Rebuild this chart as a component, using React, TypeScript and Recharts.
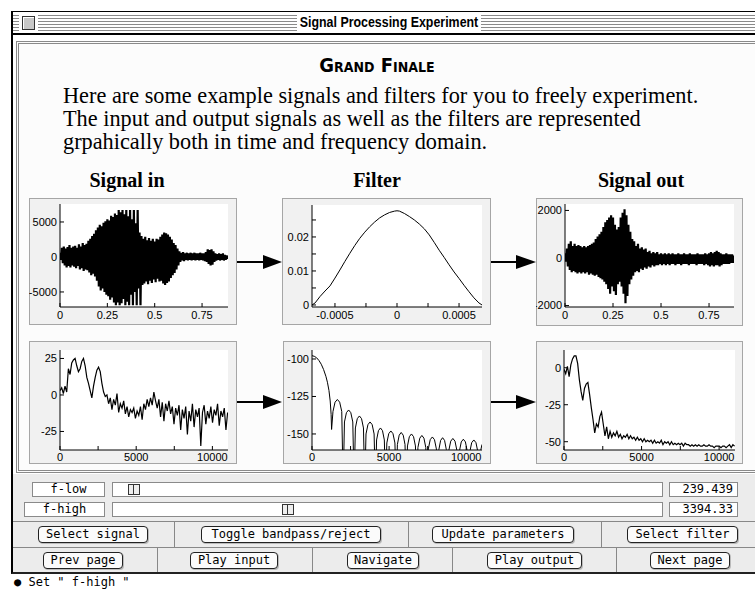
import React from 'react';
import { LineChart, Line, XAxis, YAxis, CartesianGrid } from 'recharts';

// ---------- DATA ----------
const WAVE_STEP = 0.01; // s between envelope samples
const signalInUpper = [600, 1300, 1500, 1200, 1400, 1700, 1300, 1500, 1600, 1300, 1800, 1500, 2000, 1700, 1900, 2300, 2600, 3000, 3300, 3800, 4200, 4600, 4400, 4900, 5100, 5400, 5200, 5900, 5700, 6200, 6000, 6700, 6400, 6700, 6100, 6700, 5800, 6700, 5400, 6700, 4800, 6700, 3500, 3000, 2600, 2900, 2400, 2700, 2300, 2600, 2200, 2600, 2500, 2900, 3200, 3500, 3400, 3200, 2900, 2500, 2000, 1700, 1200, 800, 600, 700, 500, 600, 500, 600, 500, 600, 500, 500, 600, 500, 500, 700, 1100, 1000, 1100, 800, 500, 400, 500, 400, 500, 300, 200];
const signalInLower = [-400, -900, -1200, -1500, -1300, -1500, -1200, -1400, -1600, -1300, -1800, -1600, -2000, -1800, -1900, -2200, -2600, -2400, -2800, -3400, -4200, -4800, -4500, -5000, -5400, -5600, -6100, -5800, -6500, -6900, -6500, -6900, -6600, -6000, -6900, -6400, -6900, -5400, -6900, -5000, -6900, -4500, -6900, -4000, -3800, -3500, -3900, -3400, -3700, -3200, -3600, -3100, -3500, -3400, -3800, -4000, -3700, -3500, -3000, -2600, -2300, -1800, -1200, -700, -500, -600, -400, -500, -400, -500, -400, -500, -400, -500, -400, -500, -600, -700, -1000, -1200, -1100, -700, -500, -400, -500, -400, -500, -400, -300];
const signalOutUpper = [200, 400, 600, 700, 500, 600, 500, 550, 500, 450, 500, 450, 500, 550, 600, 650, 800, 900, 1000, 1100, 1300, 1500, 1600, 1700, 1800, 1700, 1400, 1200, 1300, 1700, 1900, 2050, 1800, 1400, 1100, 800, 700, 500, 600, 400, 450, 350, 400, 250, 300, 200, 250, 200, 250, 150, 200, 150, 200, 150, 200, 150, 200, 150, 150, 200, 150, 150, 200, 150, 150, 200, 150, 150, 150, 200, 150, 150, 150, 200, 150, 200, 250, 200, 250, 300, 250, 200, 150, 150, 200, 150, 150, 150, 100];
const signalOutLower = [-150, -350, -500, -600, -550, -600, -650, -600, -650, -600, -650, -600, -700, -650, -700, -750, -700, -800, -850, -900, -1000, -1100, -1300, -1500, -1200, -1400, -1550, -1100, -1000, -1200, -1500, -1900, -1600, -1100, -900, -750, -600, -550, -600, -450, -500, -400, -450, -350, -400, -300, -350, -300, -300, -250, -300, -250, -300, -250, -300, -250, -250, -300, -250, -250, -300, -250, -250, -250, -300, -250, -250, -250, -300, -250, -250, -250, -300, -250, -300, -350, -300, -350, -300, -300, -350, -300, -250, -250, -250, -250, -200, -200, -150];

const SPEC_STEP = 110; // Hz between spectrum samples
const spectrumInDb = [3, 5, 1, 6, 2, 18, 14, 22, 24, 25, 20, 16, 18, 23, 25, 20, 12, 8, 3, -2, 6, 12, 17, 19, 16, 8, 2, -1, 0, -6, -2, -10, -3, -7, 1, -12, -6, -9, -4, -13, -8, -15, -10, -12, -9, -16, -11, -14, -8, -17, -6, -10, -3, -8, -2, -7, 2, -4, -9, -3, -15, -5, -18, -6, -11, -4, -13, -8, -20, -9, -14, -7, -24, -10, -16, -8, -27, -11, -18, -6, -22, -10, -15, -9, -35, -12, -7, -20, -11, -16, -8, -19, -10, -14, -6, -21, -11, -15, -9, -24, -12];
const spectrumOutDb = [-1, -4, 1, -6, 2, 6, 8, 8, 3, -8, -16, -22, -14, -11, -10, -18, -27, -35, -44, -38, -40, -33, -30, -38, -46, -40, -48, -43, -47, -44, -46, -43, -47, -45, -48, -46, -47, -45, -48, -46, -48, -47, -49, -47, -49, -48, -50, -48, -50, -49, -50, -49, -51, -49, -51, -50, -51, -49, -52, -50, -51, -50, -52, -50, -52, -51, -52, -51, -52, -51, -53, -51, -52, -52, -53, -52, -53, -52, -53, -52, -53, -53, -52, -53, -53, -52, -53, -53, -54, -53, -53, -53, -54, -53, -53, -54, -53, -52, -54, -52, -53];

const filterTimeSec = [-0.000685, -0.00066, -0.00062, -0.00058, -0.00054, -0.0005, -0.00046, -0.00042, -0.00038, -0.00034, -0.0003, -0.00026, -0.00022, -0.00018, -0.00014, -0.0001, -0.00006, -0.00002, 0, 0.00002, 0.00006, 0.0001, 0.00014, 0.00018, 0.00022, 0.00026, 0.0003, 0.00034, 0.00038, 0.00042, 0.00046, 0.0005, 0.00054, 0.00058, 0.00062, 0.00066, 0.000685];
const filterImpulse = [0, 0.0006, 0.0025, 0.0041, 0.0056, 0.0079, 0.0103, 0.0128, 0.0152, 0.0175, 0.0196, 0.0214, 0.023, 0.0244, 0.0256, 0.0265, 0.0272, 0.0276, 0.0277, 0.0276, 0.0269, 0.026, 0.025, 0.0238, 0.0224, 0.0206, 0.0184, 0.0161, 0.014, 0.0118, 0.0097, 0.0078, 0.0058, 0.0039, 0.0021, 0.0006, 0];

const filterFreqHz = [0, 150, 300, 450, 600, 750, 900, 1000, 1100, 1180, 1240, 1270,
  1360, 1495, 1645, 1795, 1930, 2020,
  2105, 2233, 2375, 2517, 2645, 2730,
  2813, 2937, 3075, 3213, 3337, 3420,
  3503, 3627, 3765, 3903, 4027, 4110,
  4189, 4308, 4440, 4572, 4691, 4770,
  4853, 4977, 5115, 5253, 5377, 5460,
  5538, 5655, 5785, 5915, 6032, 6110,
  6192, 6314, 6450, 6586, 6708, 6790,
  6870, 6991, 7125, 7259, 7380, 7460,
  7543, 7667, 7805, 7943, 8067, 8150,
  8227, 8342, 8470, 8598, 8713, 8790,
  8873, 8997, 9135, 9273, 9397, 9480,
  9560, 9681, 9815, 9949, 10070, 10150,
  10233, 10357, 10495, 10633, 10757, 10840,
  10920, 11025];
const filterDb = [-97.8, -98.2, -99.2, -101, -103.5, -107, -111.5, -115.5, -121, -128, -137, -147,
  -135, -128.8, -127, -128.8, -135, -185,
  -142, -135.8, -134, -135.8, -142, -185,
  -146, -139.8, -138, -139.8, -146, -185,
  -150, -143.8, -142, -143.8, -150, -185,
  -154, -147.8, -146, -147.8, -154, -185,
  -156, -149.8, -148, -149.8, -156, -185,
  -157, -150.8, -149, -150.8, -157, -185,
  -158, -151.8, -150, -151.8, -158, -185,
  -159, -152.8, -151, -152.8, -159, -185,
  -160, -153.8, -152, -153.8, -160, -185,
  -160.5, -154.3, -152.5, -154.3, -160.5, -185,
  -161, -154.8, -153, -154.8, -161, -185,
  -161.5, -155.3, -153.5, -155.3, -161.5, -185,
  -162, -155.8, -154, -155.8, -162, -185,
  -162, -157];

const columnTitles = ['Signal in', 'Filter', 'Signal out'];
const sliderLabels = ['f-low', 'f-high'];
const sliderValues = [239.439, 3394.33];
const sliderValueText = ['239.439', '3394.33'];
const sliderMaxHz = 11025;
const buttonsRow1 = ['Select signal', 'Toggle bandpass/reject', 'Update parameters', 'Select filter'];
const buttonsRow2 = ['Prev page', 'Play input', 'Navigate', 'Play output', 'Next page'];
const introLines = [
  'Here are some example signals and filters for you to freely experiment.',
  'The input and output signals as well as the filters are represented',
  'grpahically both in time and frequency domain.',
];

// ---------- TABLES ----------
const waveTable = (up: number[], lo: number[]) =>
  up.flatMap((u, i) => [
    { x: i * WAVE_STEP, y: u },
    { x: i * WAVE_STEP + WAVE_STEP / 2, y: lo[i] },
  ]);
const specTable = (db: number[]) => db.map((v, i) => ({ x: i * SPEC_STEP, y: v }));
const pairTable = (xs: number[], ys: number[]) => xs.map((v, i) => ({ x: v, y: ys[i] }));

const signalInData = waveTable(signalInUpper, signalInLower);
const signalOutData = waveTable(signalOutUpper, signalOutLower);
const filterTimeData = pairTable(filterTimeSec, filterImpulse);
const specInData = specTable(spectrumInDb);
const specOutData = specTable(spectrumOutDb);
const filterFreqData = pairTable(filterFreqHz, filterDb);

// ---------- LAYOUT ----------
const TICK_FONT = '"Liberation Sans", Arial, sans-serif';
const UI_FONT = '"DejaVu Sans Mono", monospace';

type Box = { x: number; y: number; w: number; h: number };
type PlotArea = { l: number; t: number; r: number; b: number };

type PlotProps = {
  frame: Box;
  plot: PlotArea;
  data: { x: number; y: number }[];
  xDomain: [number, number];
  yDomain: [number, number];
  xTicks: number[];
  xLabels: number[];
  yTicks: number[];
  yLabels: number[];
  yRightTicks?: number[];
  xTickMargin: number;
  lineWidth?: number;
};

const labelFmt = (labels: number[]) => (v: number) =>
  labels.some((l) => Math.abs(l - v) < 1e-12) ? String(v) : '';

function Plot({ frame, plot, data, xDomain, yDomain, xTicks, xLabels, yTicks, yLabels, yRightTicks, xTickMargin, lineWidth = 1 }: PlotProps) {
  const margin = { top: plot.t - frame.y, right: frame.x + frame.w - plot.r, left: 0, bottom: 0 };
  const tickStyle = { fill: '#000', fontSize: 11, fontFamily: TICK_FONT };
  return (
    <>
      <div
        style={{
          position: 'absolute', left: frame.x, top: frame.y, width: frame.w, height: frame.h,
          background: '#f1f1f1', border: '1px solid #a6a6a6', boxSizing: 'border-box',
        }}
      />
      <div style={{ position: 'absolute', left: frame.x, top: frame.y }}>
        <LineChart width={frame.w} height={frame.h} data={data} margin={margin}>
          <CartesianGrid xAxisId="b" yAxisId="l" fill="#fff" horizontal={false} vertical={false} />
          <XAxis
            xAxisId="b" dataKey="x" type="number" domain={xDomain} ticks={xTicks} interval={0}
            tickFormatter={labelFmt(xLabels)} height={frame.y + frame.h - plot.b}
            tickSize={-4} tickMargin={xTickMargin} allowDataOverflow stroke="#000" tick={tickStyle}
          />
          <XAxis
            xAxisId="t" orientation="top" dataKey="x" type="number" domain={xDomain} ticks={xTicks} interval={0}
            tickFormatter={() => ''} height={0} tickSize={-4} allowDataOverflow stroke="#000"
          />
          <YAxis
            yAxisId="l" type="number" domain={yDomain} ticks={yTicks} interval={0}
            tickFormatter={labelFmt(yLabels)} width={plot.l - frame.x}
            tickSize={-4} tickMargin={7} allowDataOverflow stroke="#000" tick={tickStyle}
          />
          <YAxis
            yAxisId="r" orientation="right" type="number" domain={yDomain} ticks={yRightTicks ?? yTicks} interval={0}
            tickFormatter={() => ''} width={0} tickSize={-4} allowDataOverflow stroke="#000"
          />
          <Line xAxisId="b" yAxisId="l" dataKey="y" type="linear" stroke="#000" strokeWidth={lineWidth} dot={false} isAnimationActive={false} />
          <Line xAxisId="t" yAxisId="r" dataKey="y" type="linear" stroke="none" dot={false} isAnimationActive={false} />
        </LineChart>
      </div>
    </>
  );
}

const stripes = 'repeating-linear-gradient(to bottom, #fff 0px, #fff 1px, #8a8a8a 1px, #8a8a8a 2px, #fff 2px, #fff 3px)';

const abs = (x: number, y: number, w: number, h: number, extra: React.CSSProperties = {}): React.CSSProperties => ({
  position: 'absolute', left: x, top: y, width: w, height: h, boxSizing: 'border-box', ...extra,
});

const row1Pos = [[38, 110], [201, 180], [432, 142], [627, 111]];
const row2Pos = [[43, 80], [190, 88], [347, 72], [487, 95], [650, 80]];
const row1Seps = [174, 408, 601];
const row2Seps = [157, 312, 452, 616];
const titleCenters = [127, 377, 641];

function Button({ label, x, y, w }: { label: string; x: number; y: number; w: number }) {
  return (
    <div
      style={abs(x, y, w, 17, {
        border: '1px solid #222', borderRadius: 4, background: '#fbfbfb', fontFamily: UI_FONT,
        fontSize: 12, lineHeight: '15px', textAlign: 'center', color: '#000', whiteSpace: 'nowrap',
        boxShadow: '1px 1px 0 #bbb',
      })}
    >
      {label}
    </div>
  );
}

export default function App() {
  const trackL = 112;
  const trackW = 551;
  const thumbW = 12;
  return (
    <div style={{ position: 'absolute', left: 0, top: 0, width: 755, height: 590, overflow: 'hidden', background: '#fff' }}>
      {/* window frame */}
      <div style={abs(11, 11, 760, 563, { borderLeft: '2px solid #000', borderTop: '1px solid #000', borderBottom: '2px solid #222', background: '#fff' })} />
      {/* title bar */}
      <div style={abs(13, 14, 284, 17, { background: stripes })} />
      <div style={abs(481, 14, 290, 17, { background: stripes })} />
      <div style={abs(19, 14, 19, 17, { background: '#fff' })} />
      <div style={abs(22, 16, 13, 14, { border: '1px solid #333', background: '#c8c8c8', boxShadow: 'inset 1px 1px 0 #fff' })} />
      <div
        style={abs(269, 12, 240, 20, {
          fontFamily: '"Liberation Sans", Arial, sans-serif', fontWeight: 'bold', fontSize: 15.5,
          lineHeight: '20px', textAlign: 'center', color: '#000', whiteSpace: 'nowrap',
          transform: 'scaleX(0.8)', transformOrigin: '50% 50%',
        })}
      >
        Signal Processing Experiment
      </div>
      <div style={abs(13, 33, 760, 2, { background: '#000' })} />

      {/* content panel */}
      <div style={abs(16, 41, 760, 432, { border: '3px double #8a8a8a', background: '#fcfcfc' })} />

      {/* heading */}
      <div
        style={abs(227, 52, 300, 26, {
          fontFamily: '"DejaVu Sans Condensed", sans-serif', fontWeight: 'bold', fontSize: 20, fontVariant: 'small-caps',
          textAlign: 'center', lineHeight: '26px', color: '#000', whiteSpace: 'nowrap',
        })}
      >
        Grand Finale
      </div>
      {/* intro paragraph */}
      {introLines.map((t, i) => (
        <div
          key={i}
          style={abs(63, 84 + i * 23, 690, 23, {
            fontFamily: '"Liberation Serif", "Times New Roman", serif', fontSize: 22.3, lineHeight: '23px',
            color: '#000', whiteSpace: 'nowrap',
          })}
        >
          {t}
        </div>
      ))}
      {/* column titles */}
      {columnTitles.map((t, i) => (
        <div
          key={t}
          style={abs(titleCenters[i] - 80, 168, 160, 24, {
            fontFamily: '"Liberation Serif", "Times New Roman", serif', fontSize: 20, fontWeight: 'bold',
            lineHeight: '24px', textAlign: 'center', color: '#000', whiteSpace: 'nowrap',
          })}
        >
          {t}
        </div>
      ))}

      {/* plots */}
      <Plot
        frame={{ x: 29, y: 198, w: 208, h: 127 }} plot={{ l: 60, t: 204, r: 228, b: 307 }}
        data={signalInData} xDomain={[0, 0.887]} yDomain={[-7150, 7570]}
        xTicks={[0, 0.25, 0.5, 0.75]} xLabels={[0, 0.25, 0.5, 0.75]}
        yTicks={[-5000, 0, 5000]} yLabels={[-5000, 0, 5000]} xTickMargin={8} lineWidth={2.2}
      />
      <Plot
        frame={{ x: 282, y: 198, w: 209, h: 127 }} plot={{ l: 312, t: 205, r: 482, b: 307 }}
        data={filterTimeData} xDomain={[-0.000685, 0.000685]} yDomain={[-0.0006, 0.0294]}
        xTicks={[-0.0005, -0.00025, 0, 0.00025, 0.0005]} xLabels={[-0.0005, 0, 0.0005]}
        yTicks={[0, 0.005, 0.01, 0.015, 0.02, 0.025]} yLabels={[0, 0.01, 0.02]} xTickMargin={8}
      />
      <Plot
        frame={{ x: 536, y: 198, w: 207, h: 128 }} plot={{ l: 565, t: 204, r: 734, b: 307 }}
        data={signalOutData} xDomain={[0, 0.88]} yDomain={[-2060, 2270]}
        xTicks={[0, 0.25, 0.5, 0.75]} xLabels={[0, 0.25, 0.5, 0.75]}
        yTicks={[-2000, 0, 2000]} yLabels={[-2000, 0, 2000]}
        yRightTicks={[-2000, -1500, -1000, -500, 0, 500, 1000, 1500, 2000]} xTickMargin={8} lineWidth={2.2}
      />
      <Plot
        frame={{ x: 29, y: 341, w: 208, h: 123 }} plot={{ l: 60, t: 350, r: 228, b: 450 }}
        data={specInData} xDomain={[0, 11025]} yDomain={[-37.7, 30.8]}
        xTicks={[0, 2500, 5000, 7500, 10000]} xLabels={[0, 5000, 10000]}
        yTicks={[-25, 0, 25]} yLabels={[-25, 0, 25]} xTickMargin={7} lineWidth={1.2}
      />
      <Plot
        frame={{ x: 283, y: 341, w: 208, h: 123 }} plot={{ l: 312, t: 350, r: 482, b: 450 }}
        data={filterFreqData} xDomain={[0, 11025]} yDomain={[-160.7, -94]}
        xTicks={[0, 2500, 5000, 7500, 10000]} xLabels={[0, 5000, 10000]}
        yTicks={[-150, -125, -100]} yLabels={[-150, -125, -100]} xTickMargin={7}
      />
      <Plot
        frame={{ x: 536, y: 341, w: 207, h: 123 }} plot={{ l: 564, t: 350, r: 735, b: 450 }}
        data={specOutData} xDomain={[0, 11025]} yDomain={[-55.6, 12]}
        xTicks={[0, 2500, 5000, 7500, 10000]} xLabels={[0, 5000, 10000]}
        yTicks={[-50, -25, 0]} yLabels={[-50, -25, 0]} xTickMargin={7} lineWidth={1.2}
      />

      {/* arrows between plots */}
      <svg style={{ position: 'absolute', left: 0, top: 0 }} width={755} height={590} pointerEvents="none">
        {[262, 402].map((y) => (
          <g key={y}>
            <line x1={237} y1={y} x2={266} y2={y} stroke="#000" strokeWidth={2} />
            <polygon points={`263,${y - 7} 282,${y} 263,${y + 7}`} fill="#000" />
            <line x1={491} y1={y} x2={518} y2={y} stroke="#000" strokeWidth={2} />
            <polygon points={`516,${y - 7} 536,${y} 516,${y + 7}`} fill="#000" />
          </g>
        ))}
      </svg>

      {/* control area */}
      <div style={abs(13, 474, 760, 98, { background: '#ececec' })} />
      {sliderLabels.map((lab, i) => {
        const y = 482 + i * 20;
        const lx = i === 0 ? 32 : 24;
        const thumbX = trackL + 4 + (sliderValues[i] / sliderMaxHz) * (trackW - thumbW);
        return (
          <React.Fragment key={lab}>
            <div
              style={abs(lx, y, 105 - lx, 15, {
                background: '#fff', border: '1px solid #8a8a8a', fontFamily: UI_FONT, fontSize: 12,
                lineHeight: '13px', textAlign: 'center', color: '#000',
              })}
            >
              {lab}
            </div>
            <div style={abs(trackL, y, trackW, 15, { background: '#fff', border: '1px solid #8a8a8a' })} />
            <div style={abs(thumbX, y + 2, thumbW, 11, { border: '1px solid #333', background: '#eee' })} />
            <div style={abs(thumbX + thumbW / 2 - 0.5, y + 2, 1, 11, { background: '#333' })} />
            <div
              style={abs(669, y, 69, 15, {
                background: '#fff', border: '1px solid #8a8a8a', fontFamily: UI_FONT, fontSize: 12,
                lineHeight: '13px', textAlign: 'right', paddingRight: 4, color: '#000',
              })}
            >
              {sliderValueText[i]}
            </div>
          </React.Fragment>
        );
      })}
      <div style={abs(13, 521, 760, 1, { background: '#888' })} />
      <div style={abs(13, 547, 760, 1, { background: '#888' })} />
      {row1Seps.map((x) => <div key={x} style={abs(x, 522, 1, 25, { background: '#888' })} />)}
      {row2Seps.map((x) => <div key={x} style={abs(x, 548, 1, 24, { background: '#888' })} />)}
      {buttonsRow1.map((b, i) => <Button key={b} label={b} x={row1Pos[i][0]} y={526} w={row1Pos[i][1]} />)}
      {buttonsRow2.map((b, i) => <Button key={b} label={b} x={row2Pos[i][0]} y={552} w={row2Pos[i][1]} />)}

      {/* status line */}
      <div style={abs(14, 575, 400, 15, { fontFamily: UI_FONT, fontSize: 12, lineHeight: '15px', color: '#000', whiteSpace: 'pre' })}>
        {'● Set " f-high "'}
      </div>
    </div>
  );
}
